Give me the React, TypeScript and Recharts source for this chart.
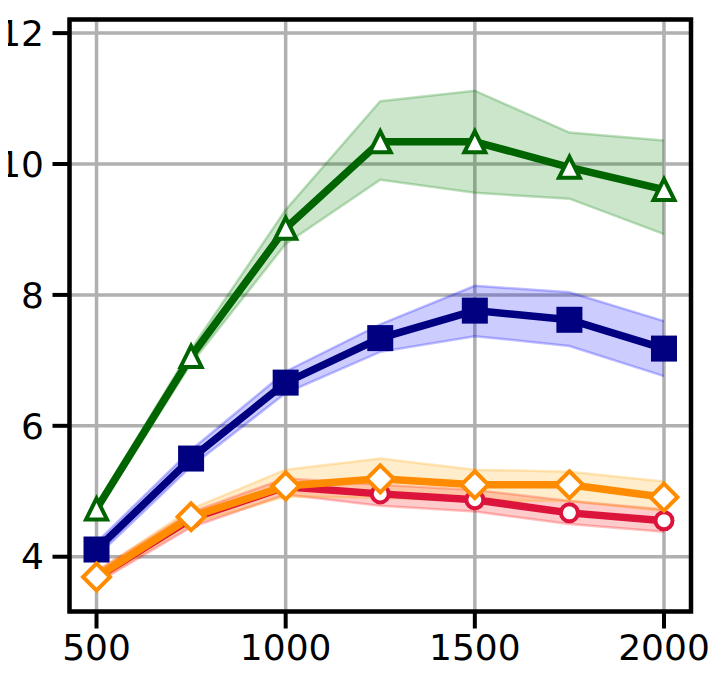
import { ComposedChart, Line, Area, XAxis, YAxis, CartesianGrid, ReferenceArea } from "recharts"

const steps = [500, 750, 1000, 1250, 1500, 1750, 2000]

const greenMean = [4.73, 7.06, 9.02, 10.34, 10.34, 9.95, 9.61]
const greenLow = [4.68, 6.95, 8.78, 9.76, 9.56, 9.47, 8.93]
const greenHigh = [4.8, 7.17, 9.3, 10.96, 11.12, 10.48, 10.36]

const blueMean = [4.11, 5.5, 6.66, 7.34, 7.76, 7.62, 7.18]
const blueLow = [4.0, 5.38, 6.5, 7.13, 7.37, 7.22, 6.76]
const blueHigh = [4.22, 5.63, 6.83, 7.55, 8.14, 8.04, 7.6]

const redMean = [3.68, 4.58, 5.07, 4.96, 4.87, 4.67, 4.55]
const redLow = [3.6, 4.45, 4.95, 4.78, 4.69, 4.5, 4.38]
const redHigh = [3.78, 4.68, 5.2, 5.1, 5.02, 4.85, 4.72]

const orangeMean = [3.69, 4.61, 5.08, 5.19, 5.1, 5.1, 4.91]
const orangeLow = [3.62, 4.5, 4.92, 4.9, 4.85, 4.85, 4.7]
const orangeHigh = [3.77, 4.73, 5.33, 5.5, 5.33, 5.3, 5.15]

const xTicks = [500, 1000, 1500, 2000]
const yTicks = [4, 6, 8, 10, 12]

const X_DOMAIN: [number, number] = [428.6, 2071.4]
const Y_DOMAIN: [number, number] = [3.163, 12.208]

const data = steps.map((x, i) => ({
  x,
  green: greenMean[i],
  greenBand: [greenLow[i], greenHigh[i]],
  blue: blueMean[i],
  blueBand: [blueLow[i], blueHigh[i]],
  red: redMean[i],
  redBand: [redLow[i], redHigh[i]],
  orange: orangeMean[i],
  orangeBand: [orangeLow[i], orangeHigh[i]],
}))

const Triangle = (props: any) => {
  const { cx, cy, index } = props
  const h = 10.5
  return (
    <path
      key={`tri-${index}`}
      d={`M${cx},${cy - h} L${cx - h},${cy + h} L${cx + h},${cy + h} Z`}
      fill="#fff"
      stroke="#006400"
      strokeWidth={4}
    />
  )
}

const Square = (props: any) => {
  const { cx, cy, index } = props
  const h = 11.5
  return <rect key={`sq-${index}`} x={cx - h} y={cy - h} width={h * 2} height={h * 2} fill="#000080" stroke="#000080" strokeWidth={3} />
}

const Circle = (props: any) => {
  const { cx, cy, index } = props
  return <circle key={`ci-${index}`} cx={cx} cy={cy} r={8.5} fill="#fff" stroke="#dc143c" strokeWidth={4} />
}

const Diamond = (props: any) => {
  const { cx, cy, index } = props
  const h = 13.5
  return (
    <path
      key={`di-${index}`}
      d={`M${cx},${cy - h} L${cx + h},${cy} L${cx},${cy + h} L${cx - h},${cy} Z`}
      fill="#fff"
      stroke="#ff8c00"
      strokeWidth={4}
    />
  )
}

const tickStyle = { fill: "#000", fontSize: 36 }
const tickLine = { stroke: "#000", strokeWidth: 4 }

export default function App() {
  return (
    <div style={{ fontFamily: "DejaVu Sans", marginLeft: -8 }}>
      <ComposedChart width={710} height={680} data={data} margin={{ top: 11.5, right: 19, bottom: 0, left: 0 }}>
        <CartesianGrid stroke="#b0b0b0" strokeWidth={3.5} />
        <XAxis
          type="number"
          dataKey="x"
          domain={X_DOMAIN}
          ticks={xTicks}
          allowDataOverflow
          height={76.5}
          tick={tickStyle}
          tickLine={tickLine}
          tickSize={17}
          tickMargin={6}
          axisLine={false}
        />
        <YAxis
          type="number"
          domain={Y_DOMAIN}
          ticks={yTicks}
          allowDataOverflow
          width={69.5}
          tick={tickStyle}
          tickLine={tickLine}
          tickSize={17}
          tickMargin={8.5}
          axisLine={false}
        />
        <Area type="linear" dataKey="greenBand" fill="green" fillOpacity={0.2} stroke="green" strokeOpacity={0.25} strokeWidth={2.5} isAnimationActive={false} />
        <Area type="linear" dataKey="blueBand" fill="blue" fillOpacity={0.2} stroke="blue" strokeOpacity={0.25} strokeWidth={2.5} isAnimationActive={false} />
        <Area type="linear" dataKey="redBand" fill="red" fillOpacity={0.2} stroke="red" strokeOpacity={0.25} strokeWidth={2.5} isAnimationActive={false} />
        <Area type="linear" dataKey="orangeBand" fill="orange" fillOpacity={0.2} stroke="orange" strokeOpacity={0.25} strokeWidth={2.5} isAnimationActive={false} />
        <Line type="linear" dataKey="green" stroke="#006400" strokeWidth={7.5} dot={Triangle} activeDot={false} isAnimationActive={false} />
        <Line type="linear" dataKey="blue" stroke="#000080" strokeWidth={7.5} dot={Square} activeDot={false} isAnimationActive={false} />
        <Line type="linear" dataKey="red" stroke="#dc143c" strokeWidth={7.5} dot={Circle} activeDot={false} isAnimationActive={false} />
        <Line type="linear" dataKey="orange" stroke="#ff8c00" strokeWidth={7.5} dot={Diamond} activeDot={false} isAnimationActive={false} />
        <ReferenceArea
          x1={X_DOMAIN[0]}
          x2={X_DOMAIN[1]}
          y1={Y_DOMAIN[0]}
          y2={Y_DOMAIN[1]}
          fill="none"
          stroke="#000"
          strokeWidth={4.5}
          ifOverflow="visible"
        />
      </ComposedChart>
    </div>
  )
}
